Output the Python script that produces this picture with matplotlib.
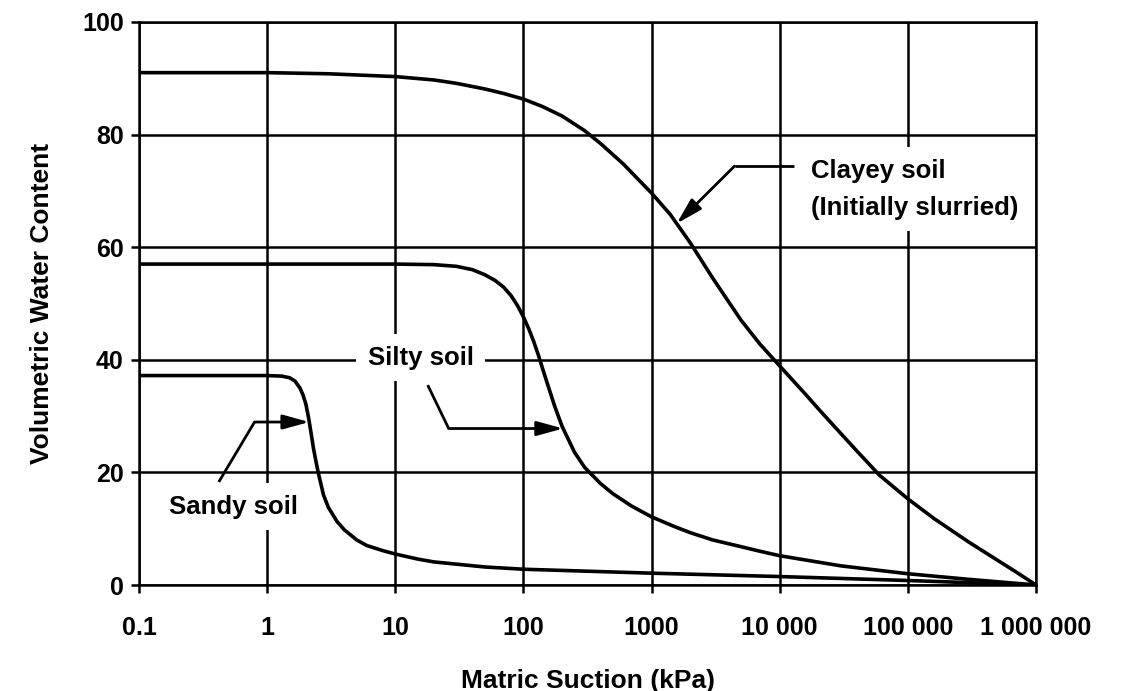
import numpy as np
import matplotlib.pyplot as plt
from matplotlib.ticker import FixedLocator, FixedFormatter, NullLocator

# axis ticks
suction_ticks = [0.1, 1, 10, 100, 1000, 10000, 100000, 1000000]
suction_labels = ['0.1', '1', '10', '100', '1000', '10 000', '100 000', '1 000 000']
water_ticks = [0, 20, 40, 60, 80, 100]

# clayey soil (initially slurried)
clay_x = [0.1, 1, 3, 10, 20, 30, 50, 70, 100, 140, 200, 300, 400, 600, 1000,
          1400, 2000, 3000, 5000, 7000, 10000, 16000, 20000, 30000, 40000,
          60000, 100000, 160000, 300000, 500000, 700000, 1000000]
clay_y = [91.0, 91.0, 90.8, 90.3, 89.7, 89.1, 88.1, 87.3, 86.3, 85.0, 83.3,
          80.7, 78.4, 74.8, 69.6, 65.8, 60.8, 54.5, 47.0, 42.8, 38.9, 33.8,
          31.3, 26.9, 23.8, 19.5, 15.3, 11.8, 7.6, 4.4, 2.3, 0.0]

# silty soil
silt_x = [0.1, 1, 10, 20, 30, 40, 50, 60, 70, 80, 90, 100, 110, 120, 130,
          150, 175, 200, 250, 300, 400, 500, 700, 1000, 1500, 2000, 3000,
          5000, 7000, 10000, 30000, 100000, 300000, 1000000]
silt_y = [57.0, 57.0, 57.0, 56.9, 56.6, 56.0, 55.1, 54.1, 52.9, 51.4, 49.6,
          47.6, 45.5, 43.3, 41.0, 36.5, 31.8, 28.2, 23.6, 20.9, 18.0, 16.2,
          14.0, 12.1, 10.4, 9.3, 8.0, 6.8, 6.0, 5.2, 3.4, 2.0, 1.0, 0.0]

# sandy soil
sand_x = [0.1, 1, 1.3, 1.5, 1.65, 1.8, 1.9, 2.0, 2.1, 2.2, 2.3, 2.4, 2.5,
          2.75, 3.0, 3.5, 4, 5, 6, 8, 10, 15, 20, 50, 100, 1000, 10000,
          100000, 1000000]
sand_y = [37.2, 37.2, 37.1, 36.8, 36.2, 35.0, 33.8, 32.2, 29.8, 27.0, 24.2,
          22.0, 20.0, 16.0, 13.8, 11.3, 9.8, 8.0, 7.0, 6.1, 5.5, 4.6, 4.1,
          3.2, 2.8, 2.1, 1.5, 0.8, 0.0]

plt.rcParams['font.family'] = ['Liberation Sans', 'DejaVu Sans']
plt.rcParams['font.weight'] = 'bold'

fig = plt.figure(figsize=(11.25, 6.91), dpi=100)
ax = fig.add_axes([0.1236, 0.1534, 0.7973, 0.8148])

lw = 1.8
for xs, ys in [(clay_x, clay_y), (silt_x, silt_y), (sand_x, sand_y)]:
    ax.plot(xs, ys, color='black', lw=2.6, zorder=2, solid_joinstyle='round')

ax.set_xscale('log')
ax.set_xlim(0.1, 1000000)
ax.set_ylim(0, 100)
ax.xaxis.set_major_locator(FixedLocator(suction_ticks))
ax.xaxis.set_major_formatter(FixedFormatter(suction_labels))
ax.xaxis.set_minor_locator(NullLocator())
ax.set_yticks(water_ticks)

ax.set_axisbelow(True)
ax.grid(True, color='black', lw=lw)
for s in ax.spines.values():
    s.set_linewidth(lw)
ax.tick_params(axis='both', direction='out', length=6, width=lw,
               labelsize=18, colors='black')
ax.tick_params(axis='x', pad=16)
ax.tick_params(axis='y', pad=5)

ax.set_xlabel('Matric Suction (kPa)', fontsize=19, fontweight='bold', labelpad=21)
ax.set_ylabel('Volumetric Water Content', fontsize=19, fontweight='bold', labelpad=20)

box = dict(boxstyle='square,pad=0.45', fc='white', ec='none')
ax.text(17600, 70.3, 'Clayey soil\n(Initially slurried)', fontsize=18.5,
        fontweight='bold', ha='left', va='center', linespacing=1.7, bbox=box)
ax.text(6.1, 40.4, 'Silty soil', fontsize=18.5, fontweight='bold',
        ha='left', va='center', bbox=box)
ax.text(0.171, 13.9, 'Sandy soil', fontsize=18.5, fontweight='bold',
        ha='left', va='center', bbox=box)

arrow = dict(arrowstyle='-|>,head_length=0.8,head_width=0.22', color='black',
             lw=2.0, shrinkA=0, shrinkB=0, mutation_scale=20)


def leader(x0, y0, xc, yc, xt, yt):
    ax.plot([x0, xc], [y0, yc], color='black', lw=2.0, zorder=4,
            solid_capstyle='butt')
    ax.annotate('', xy=(xt, yt), xytext=(xc, yc), arrowprops=arrow, zorder=4)


lx = np.log10
tip = 1570
leader(12970, 74.4, 4440, 74.4, tip, np.interp(lx(tip), lx(clay_x), clay_y))
tip = 204
ty = np.interp(lx(tip), lx(silt_x), silt_y)
leader(17.9, 35.5, 26.1, ty, tip, ty)
tip = 2.13
ty = np.interp(lx(tip), lx(sand_x), sand_y)
leader(0.419, 18.3, 0.797, ty, tip, ty)

fig.savefig('out.png', dpi=100)
